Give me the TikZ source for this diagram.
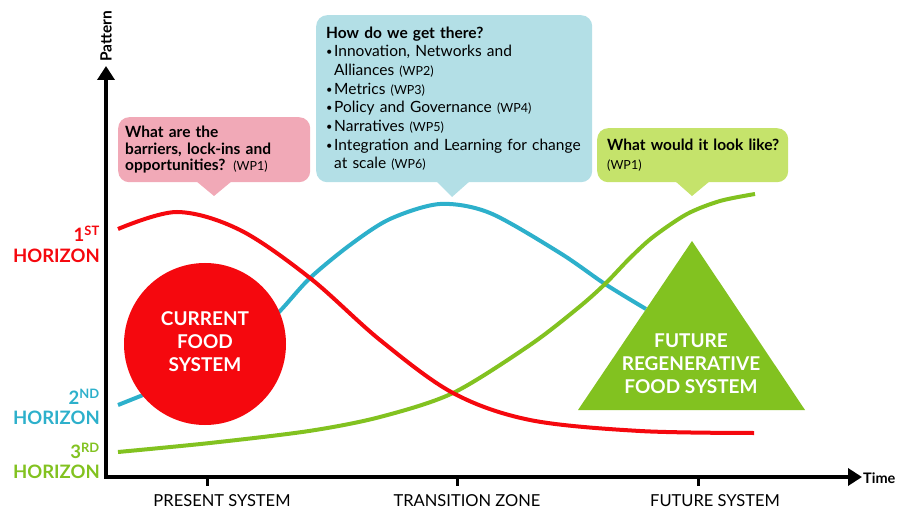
\documentclass[tikz,border=0pt]{standalone}
\usepackage{fontspec}
\setmainfont{Lato}
\usetikzlibrary{arrows.meta}
\definecolor{hred}{RGB}{245,8,14}
\definecolor{hblue}{RGB}{45,176,203}
\definecolor{hgreen}{RGB}{130,194,32}
\definecolor{cpink}{RGB}{241,169,183}
\definecolor{cblue}{RGB}{179,223,230}
\definecolor{cgreen}{RGB}{197,227,107}
\newcommand\wpsmall{\fontsize{12.5}{12}\selectfont\mdseries}
\newcommand\blt{\makebox[8pt][l]{\raisebox{1pt}{\fontsize{11}{11}\selectfont\textbullet}}}
\begin{document}
\begin{tikzpicture}[x=1pt,y=-1pt,
  curve/.style={line width=4pt, line cap=butt},
  bubble/.style={rounded corners=11pt, anchor=north west, inner ysep=0pt, align=left, font=\fontsize{15.5}{16.7}\selectfont},
  horlabel/.style={anchor=east, align=right, inner sep=0pt, font=\fontsize{18.5}{20.5}\selectfont\bfseries},
  ticklabel/.style={font=\fontsize{16.5}{18}\selectfont, anchor=base},
  bigtext/.style={text=white, align=center, font=\fontsize{19}{23}\selectfont\bfseries, inner sep=0pt}
]
\path[use as bounding box] (0,0) rectangle (898,508);

% curves
\draw[curve, hblue] plot[smooth, tension=0.5] coordinates {(118,405) (143,395) (180,380) (220,358) (255,334) (280,311) (310,278) (350,245) (390,219) (440,204) (490,213) (560,253) (605,284) (646,309)};
\draw[curve, hgreen] plot[smooth, tension=0.5] coordinates {(118,452) (210,443) (309,431) (380,417) (453,393) (530,345) (578,308) (605,284) (630,258) (653,237) (687,214) (720,201) (755,194)};
\draw[curve, hred] plot[smooth, tension=0.55] coordinates {(118,229) (177,212) (240,230) (310,278) (380,340) (453,393) (530,420) (640,431) (754,433)};

% current system circle
\node[circle, fill=hred, minimum size=162pt, inner sep=0pt] (cur) at (205,344) {};
\node[bigtext] (curtext) at (205,342) {CURRENT\\FOOD\\SYSTEM};

% future triangle
\fill[hgreen] (692,241) -- (805,410) -- (578,410) -- cycle;
\node[bigtext] (futtext) at (691,364) {FUTURE\\REGENERATIVE\\FOOD SYSTEM};

% axes
\coordinate (ytop) at (106,66);
\coordinate (orig) at (106,477);
\coordinate (xend) at (862,477);
\draw[line width=3.5pt, line join=miter, {Triangle[length=14pt,width=17pt]}-{Triangle[length=14pt,width=17pt]}] (ytop) -- (orig) -- (xend);
\node[rotate=90, anchor=south, inner sep=0pt, font=\fontsize{15.5}{15}\selectfont\bfseries] (pattern) at (112,36) {Pattern};
\node[anchor=west, inner sep=0pt, font=\fontsize{14.5}{14}\selectfont\bfseries] (time) at (863,478) {Time};

% ticks
\foreach \x/\n in {207/t1, 457/t2, 698/t3} {
  \coordinate (\n) at (\x,477);
  \draw[line width=3pt] (\n) -- ++(0,9);
}
\node[ticklabel] (l1) at (222,506) {PRESENT SYSTEM};
\node[ticklabel] (l2) at (467,506) {TRANSITION ZONE};
\node[ticklabel] (l3) at (715,506) {FUTURE SYSTEM};

% horizon labels
\node[horlabel, text=hred] (h1) at (100,244) {1\textsuperscript{ST}\\HORIZON};
\node[horlabel, text=hblue] (h2) at (100,407) {2\textsuperscript{ND}\\HORIZON};
\node[horlabel, text=hgreen] (h3) at (100,461) {3\textsuperscript{RD}\\HORIZON};

% callouts
\node[bubble, fill=cpink, minimum width=192pt, minimum height=65pt, text width=178pt, inner xsep=7pt] (q1) at (118,117)
  {\bfseries What are the\\\bfseries barriers, lock-ins and\\\bfseries opportunities? {\wpsmall(WP1)}};
\fill[cpink] (196,181) -- (214,196) -- (232,181) -- cycle;

\node[bubble, fill=cblue, minimum width=275pt, minimum height=167pt, text width=256pt, inner xsep=10pt, font=\fontsize{15.5}{18.7}\selectfont] (q2) at (316,15)
  {\textbf{How do we get there?}\\
   \blt Innovation, Networks and\\
   \hspace*{8pt}Alliances {\wpsmall(WP2)}\\
   \blt Metrics {\wpsmall(WP3)}\\
   \blt Policy and Governance {\wpsmall(WP4)}\\
   \blt Narratives {\wpsmall(WP5)}\\
   \blt Integration and Learning for change\\
   \hspace*{8pt}at scale {\wpsmall(WP6)}};
\fill[cblue] (436,181) -- (452,197) -- (470,181) -- cycle;

\node[bubble, fill=cgreen, minimum width=191pt, minimum height=54pt, text width=171pt, inner xsep=10pt, font=\fontsize{15.5}{19}\selectfont] (q3) at (597,128)
  {\mbox{\textbf{What would it look like?}}\\{\wpsmall(WP1)}};
\fill[cgreen] (675,181) -- (692,196) -- (710,181) -- cycle;
\end{tikzpicture}
\end{document}
